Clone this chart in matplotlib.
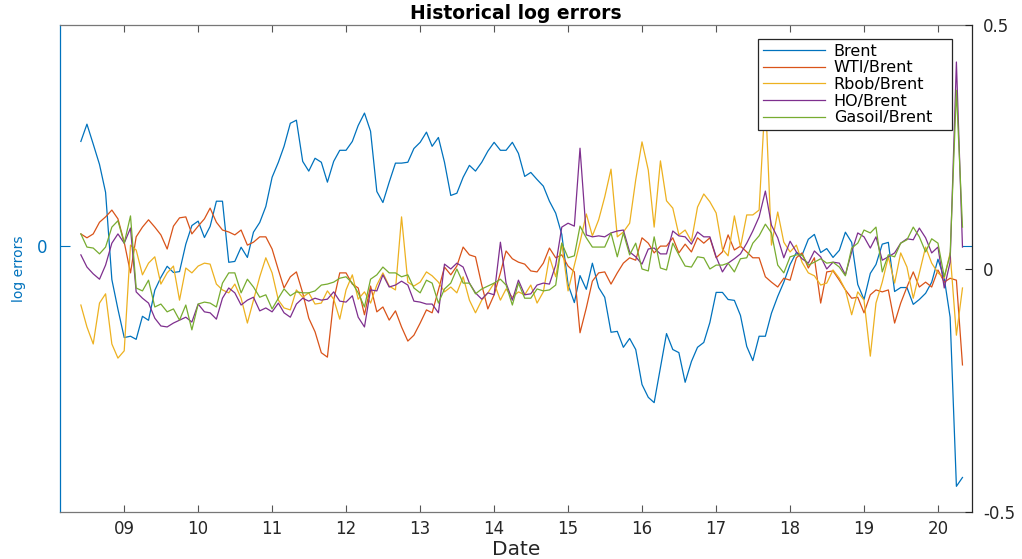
import numpy as np
import pandas as pd
import matplotlib
matplotlib.use('Agg')
from matplotlib import pyplot as plt
import matplotlib.dates as mdates

plt.rcParams['font.family'] = ['DejaVu Sans']

# monthly observations, Jun 2008 .. May 2020
dates = pd.date_range('2008-06-01', periods=144, freq='MS')

# left axis
brent = [
    0.237, 0.276, 0.231, 0.185, 0.122, -0.075, -0.142, -0.206, -0.203, -0.210,
    -0.158, -0.167, -0.099, -0.070, -0.045, -0.059, -0.057, 0.005, 0.047, 0.057,
    0.020, 0.045, 0.102, 0.102, -0.036, -0.034, -0.002, -0.025, 0.032, 0.054,
    0.090, 0.156, 0.190, 0.226, 0.278, 0.285, 0.192, 0.170, 0.199, 0.190,
    0.145, 0.192, 0.217, 0.217, 0.237, 0.273, 0.301, 0.260, 0.124, 0.099,
    0.145, 0.188, 0.188, 0.190, 0.221, 0.235, 0.258, 0.226, 0.246, 0.190,
    0.115, 0.120, 0.156, 0.183, 0.170, 0.190, 0.215, 0.235, 0.217, 0.217,
    0.235, 0.210, 0.158, 0.167, 0.151, 0.136, 0.102, 0.075, 0.027, -0.086,
    -0.127, -0.066, -0.097, -0.038, -0.093, -0.115, -0.194, -0.192, -0.228, -0.208,
    -0.233, -0.312, -0.341, -0.353, -0.273, -0.197, -0.233, -0.240, -0.307, -0.260,
    -0.228, -0.217, -0.172, -0.104, -0.104, -0.120, -0.122, -0.156, -0.226, -0.258,
    -0.203, -0.203, -0.151, -0.113, -0.081, -0.041, -0.014, -0.020, 0.016, 0.027,
    -0.014, -0.005, -0.025, -0.009, 0.032, 0.009, -0.086, -0.120, -0.061, -0.041,
    0.005, 0.009, -0.102, -0.093, -0.093, -0.131, -0.120, -0.106, -0.081, -0.029,
    -0.072, -0.160, -0.542, -0.522]

# right axis
wti = [
    0.071, 0.063, 0.071, 0.095, 0.106, 0.120, 0.102, 0.054, -0.009, 0.065,
    0.085, 0.100, 0.085, 0.069, 0.040, 0.087, 0.104, 0.106, 0.071, 0.087,
    0.102, 0.124, 0.095, 0.079, 0.075, 0.069, 0.079, 0.048, 0.054, 0.065,
    0.065, 0.040, -0.003, -0.040, -0.017, -0.007, -0.050, -0.102, -0.130, -0.173,
    -0.182, -0.065, -0.009, -0.009, -0.032, -0.040, -0.095, -0.036, -0.089, -0.079,
    -0.106, -0.087, -0.120, -0.149, -0.137, -0.112, -0.085, -0.091, -0.044, 0.003,
    -0.013, 0.005, 0.044, 0.028, 0.024, -0.034, -0.083, -0.054, -0.009, 0.036,
    0.020, 0.013, 0.009, -0.005, -0.007, 0.011, 0.042, 0.022, 0.028, 0.005,
    -0.007, -0.132, -0.081, -0.026, -0.009, -0.007, -0.032, -0.009, 0.011, 0.022,
    0.017, 0.063, 0.052, 0.032, 0.046, 0.046, 0.063, 0.032, 0.050, 0.034,
    0.063, 0.052, 0.063, 0.022, 0.034, 0.069, 0.038, 0.046, 0.034, 0.022,
    0.022, -0.017, -0.028, -0.038, -0.020, -0.024, 0.022, 0.032, 0.001, 0.022,
    -0.071, -0.007, -0.005, -0.024, -0.044, -0.061, -0.059, -0.091, -0.054, -0.044,
    -0.048, -0.044, -0.112, -0.071, -0.038, -0.007, -0.038, -0.028, -0.038, -0.003,
    -0.028, -0.020, -0.024, -0.198]

rbob = [
    -0.075, -0.120, -0.155, -0.071, -0.052, -0.155, -0.184, -0.169, 0.048, 0.038,
    -0.013, 0.011, 0.024, -0.032, -0.009, 0.005, -0.065, 0.001, -0.009, 0.005,
    0.011, 0.009, -0.032, -0.044, -0.050, -0.032, -0.061, -0.112, -0.065, -0.017,
    0.022, -0.009, -0.065, -0.081, -0.085, -0.044, -0.059, -0.050, -0.073, -0.071,
    -0.046, -0.063, -0.104, -0.044, -0.013, -0.063, -0.048, -0.071, -0.034, -0.009,
    -0.036, -0.044, 0.106, -0.028, -0.036, -0.028, -0.007, -0.015, -0.028, -0.048,
    -0.038, -0.050, -0.017, -0.065, -0.091, -0.065, -0.050, -0.030, -0.065, -0.042,
    -0.059, -0.048, -0.054, -0.034, -0.071, -0.048, 0.024, -0.017, 0.052, -0.046,
    0.007, 0.054, 0.112, 0.067, 0.100, 0.147, 0.204, 0.065, 0.075, 0.093,
    0.182, 0.260, 0.202, 0.085, 0.221, 0.139, 0.124, 0.069, 0.079, 0.056,
    0.126, 0.153, 0.137, 0.114, 0.040, 0.026, 0.108, 0.044, 0.110, 0.110,
    0.120, 0.356, 0.048, 0.116, 0.054, 0.034, 0.048, 0.013, -0.009, -0.015,
    -0.034, -0.030, -0.003, -0.020, -0.044, -0.095, -0.048, -0.065, -0.180, -0.071,
    -0.028, 0.024, -0.030, 0.032, 0.003, -0.061, -0.009, 0.044, 0.011, -0.009,
    -0.020, 0.032, -0.137, -0.040]

ho = [
    0.028, 0.003, -0.011, -0.022, 0.007, 0.052, 0.071, 0.052, 0.083, -0.048,
    -0.061, -0.071, -0.102, -0.118, -0.120, -0.112, -0.106, -0.100, -0.110, -0.073,
    -0.089, -0.091, -0.104, -0.061, -0.040, -0.050, -0.075, -0.065, -0.059, -0.087,
    -0.081, -0.089, -0.071, -0.091, -0.100, -0.073, -0.061, -0.067, -0.061, -0.065,
    -0.063, -0.048, -0.067, -0.069, -0.056, -0.100, -0.120, -0.044, -0.046, -0.013,
    -0.038, -0.034, -0.026, -0.034, -0.067, -0.069, -0.073, -0.073, -0.091, 0.009,
    -0.001, 0.011, 0.003, -0.030, -0.050, -0.063, -0.050, -0.054, 0.054, -0.030,
    -0.065, -0.024, -0.054, -0.052, -0.034, -0.030, -0.032, 0.007, 0.085, 0.093,
    0.087, 0.247, 0.069, 0.065, 0.067, 0.065, 0.073, 0.077, 0.079, 0.034,
    0.024, 0.009, 0.040, 0.042, 0.030, 0.030, 0.077, 0.067, 0.065, 0.050,
    0.075, 0.065, 0.065, 0.024, -0.007, 0.011, 0.020, 0.030, 0.052, 0.077,
    0.106, 0.159, 0.089, 0.063, 0.022, 0.056, 0.034, 0.020, 0.011, 0.036,
    0.024, -0.001, 0.013, 0.011, -0.013, 0.034, 0.073, 0.065, 0.042, 0.065,
    0.017, 0.024, 0.032, 0.052, 0.061, 0.059, 0.083, 0.063, 0.032, 0.044,
    -0.040, 0.013, 0.424, 0.044]

gasoil = [
    0.071, 0.044, 0.042, 0.030, 0.044, 0.085, 0.098, 0.052, 0.108, -0.040,
    -0.046, -0.024, -0.079, -0.073, -0.089, -0.083, -0.106, -0.075, -0.126, -0.073,
    -0.069, -0.071, -0.079, -0.030, -0.009, -0.009, -0.050, -0.022, -0.038, -0.059,
    -0.054, -0.083, -0.061, -0.042, -0.056, -0.048, -0.050, -0.050, -0.046, -0.034,
    -0.032, -0.028, -0.020, -0.017, -0.030, -0.050, -0.079, -0.022, -0.013, 0.003,
    -0.009, -0.009, -0.017, -0.013, -0.040, -0.050, -0.024, -0.030, -0.071, -0.042,
    -0.030, -0.001, -0.030, -0.030, -0.052, -0.042, -0.036, -0.030, -0.022, -0.034,
    -0.075, -0.030, -0.061, -0.061, -0.042, -0.046, -0.044, -0.034, 0.052, 0.022,
    0.026, 0.087, 0.063, 0.044, 0.044, 0.044, 0.073, 0.024, 0.073, 0.028,
    0.052, -0.001, -0.005, 0.065, 0.001, -0.003, 0.052, 0.028, 0.005, 0.003,
    0.024, 0.022, -0.001, 0.007, 0.007, 0.011, -0.007, 0.020, 0.022, 0.052,
    0.067, 0.091, 0.073, 0.007, -0.009, 0.024, 0.028, 0.028, 0.007, 0.013,
    0.020, 0.011, 0.013, 0.003, -0.015, 0.042, 0.052, 0.079, 0.073, 0.085,
    -0.007, 0.028, 0.024, 0.052, 0.059, 0.085, 0.065, 0.034, 0.061, 0.052,
    -0.017, 0.028, 0.366, 0.085]

labels = ['Brent', 'WTI/Brent', 'Rbob/Brent', 'HO/Brent', 'Gasoil/Brent']
colors = ['#0072BD', '#D95319', '#EDB120', '#7E2F8E', '#77AC30']

W, H = 1022, 559
fig = plt.figure(figsize=(W / 100, H / 100), dpi=100)
ax = fig.add_axes([60 / W, (H - 512) / H, 912 / W, 487 / H])
ax2 = ax.twinx()

lines = []
lines += ax.plot(dates, brent, color=colors[0], lw=0.9)
for vals, c in zip([wti, rbob, ho, gasoil], colors[1:]):
    lines += ax2.plot(dates, vals, color=c, lw=0.9)

ax.set_xlim(pd.Timestamp('2008-02-19'), pd.Timestamp('2020-06-17'))
ax.set_ylim(-0.6, 0.5)
ax2.set_ylim(-0.5, 0.5)

ax.xaxis.set_major_locator(mdates.YearLocator())
ax.xaxis.set_major_formatter(mdates.DateFormatter('%y'))
ax.tick_params(axis='x', direction='in', top=True, length=5, width=0.8,
               color='#555555', labelsize=12, labelcolor='#262626', pad=6)

ax.set_yticks([0])
ax.set_yticklabels(['0'])
ax.tick_params(axis='y', direction='in', left=True, right=True, length=7,
               width=0.8, colors='#0072BD', labelsize=12, pad=9)
ax.set_ylabel('log errors', color='#0072BD', fontsize=10, labelpad=8)

ax2.set_yticks([-0.5, 0, 0.5])
ax2.set_yticklabels(['-0.5', '0', '0.5'])
ax2.tick_params(axis='y', direction='in', length=5, width=0.8,
                colors='#262626', labelsize=12, pad=8)

for s in ['top', 'bottom']:
    ax.spines[s].set_color('#777777')
    ax.spines[s].set_linewidth(0.9)
    ax2.spines[s].set_visible(False)
ax.spines['left'].set_color('#0072BD')
ax.spines['left'].set_linewidth(0.9)
ax.spines['right'].set_visible(False)
ax2.spines['left'].set_visible(False)
ax2.spines['right'].set_color('#262626')
ax2.spines['right'].set_linewidth(0.9)

ax.set_xlabel('Date', fontsize=14.5, color='#262626', labelpad=1)
ax.set_title('Historical log errors', fontsize=13.5, fontweight='bold', pad=4)

# legend box spans x 758..952 px, top at y 39 px
lx0 = (758 - 60) / 912
lw_ = (952 - 758) / 912
ltop = (512 - 39) / 487
leg = ax2.legend(lines, labels, loc='upper left', mode='expand',
                 bbox_to_anchor=(lx0, ltop - 0.3, lw_, 0.3),
                 borderaxespad=0, fancybox=False, framealpha=1,
                 edgecolor='#262626', fontsize=11.5, handlelength=3.9,
                 handletextpad=0.55, labelspacing=0.1, borderpad=0.3)
leg.get_frame().set_linewidth(0.9)

fig.savefig('out.png', dpi=100)
